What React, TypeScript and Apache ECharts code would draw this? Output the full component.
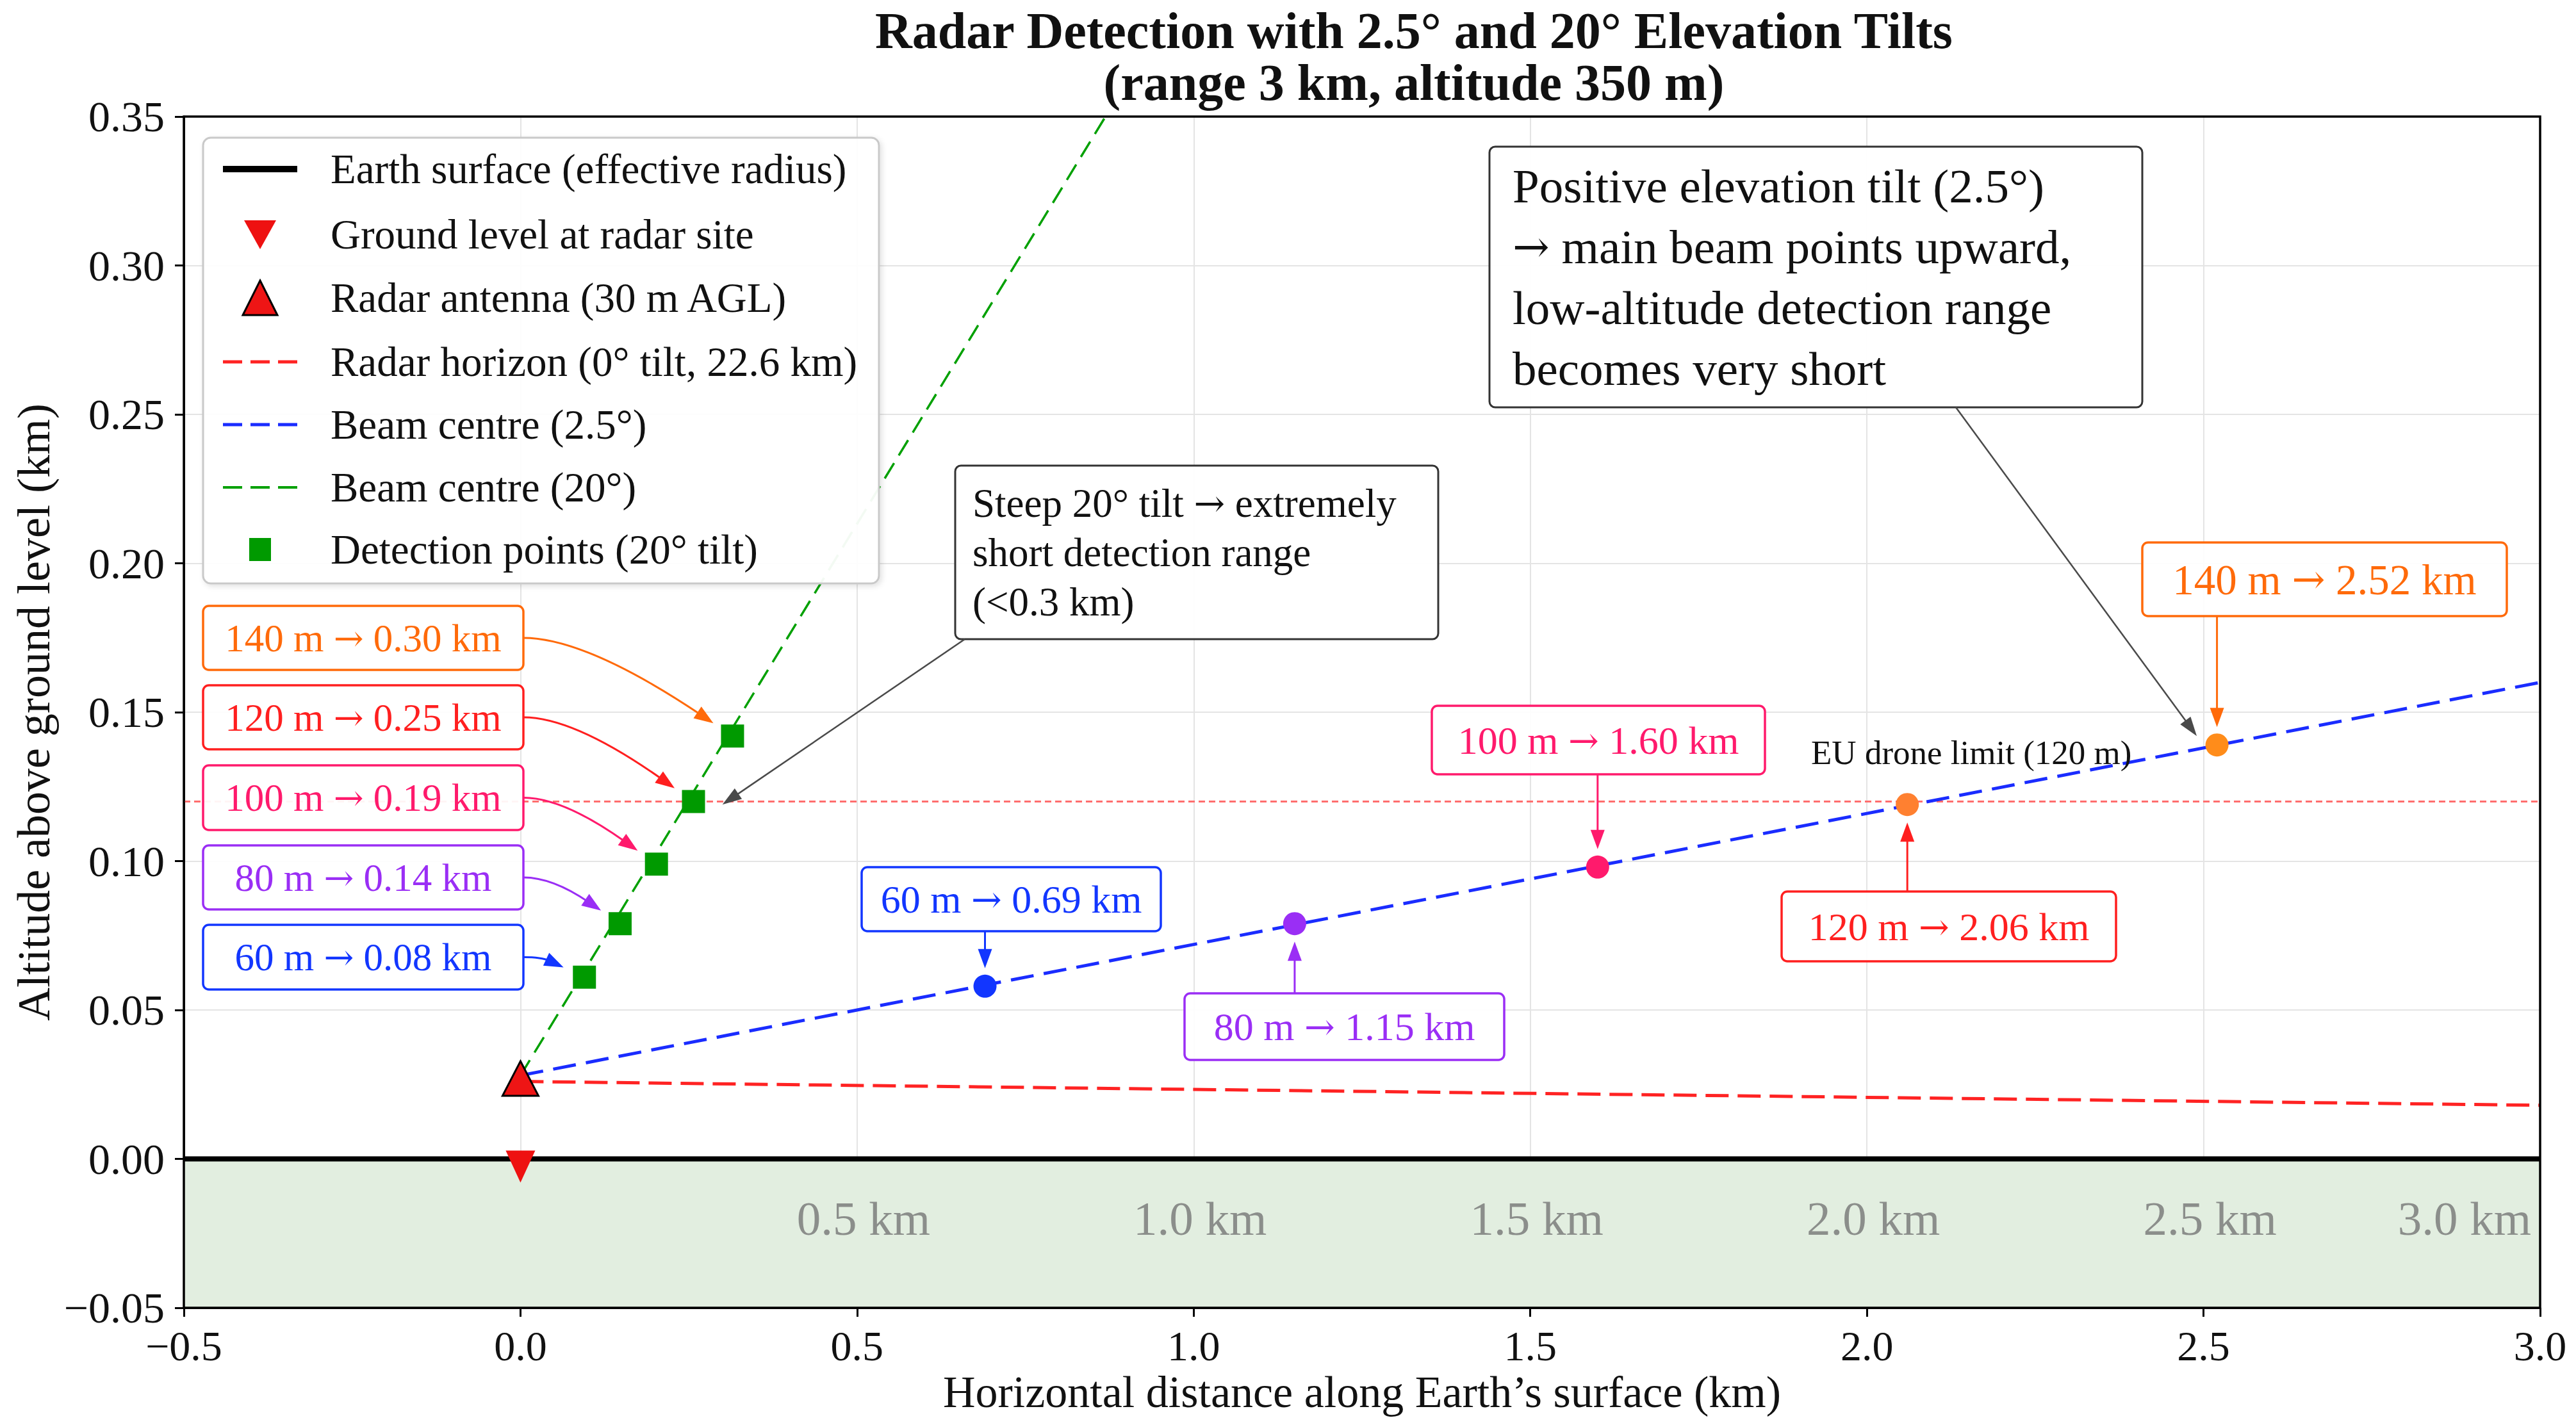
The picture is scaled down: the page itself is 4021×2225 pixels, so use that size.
import React, { useEffect, useRef } from "react";
import * as echarts from "echarts";

const W = 4021;
const H = 2225;
const FONT = '"Liberation Serif", "Times New Roman", serif';
const ARROW_FONT = '"DejaVu Serif", serif';

// ---------------- data ----------------
const xMin = -0.5;
const xMax = 3.0;
const xStep = 0.5;
const yMin = -0.05;
const yMax = 0.35;
const yStep = 0.05;

const earthSurface = [[-0.5, 0], [3.0, 0]];
const groundBand = [-0.05, 0];
const radarSite = [[0, 0]];
const radarAntenna = [[0, 0.027]];
const radarHorizon = [[0, 0.026], [3.0, 0.018]];
const beamLow = [[0, 0.028], [3.0, 0.16]];
const beamSteep = [[0, 0.028], [0.869, 0.35]];
const euLimit = [[-0.5, 0.12], [3.0, 0.12]];

const altitudesM = [60, 80, 100, 120, 140];
const steepRangeKm = [0.08, 0.14, 0.19, 0.25, 0.3];
const steepPointX = [0.095, 0.148, 0.202, 0.257, 0.315];
const steepPointY = [0.061, 0.079, 0.099, 0.12, 0.142];
const lowRangeKm = [0.69, 1.15, 1.6, 2.06, 2.52];
const lowPointY = [0.058, 0.079, 0.098, 0.119, 0.139];

const groundLabelKm = [0.5, 1.0, 1.5, 2.0, 2.5, 3.0];
const groundLabelY = -0.02;

const steepNoteTarget = [0.3, 0.119];
const tiltNoteTarget = [2.49, 0.142];

const titleText =
  "Radar Detection with 2.5\u00b0 and 20\u00b0 Elevation Tilts\n(range 3 km, altitude 350 m)";
const legendLabels = [
  "Earth surface (effective radius)",
  "Ground level at radar site",
  "Radar antenna (30 m AGL)",
  "Radar horizon (0\u00b0 tilt, 22.6 km)",
  "Beam centre (2.5\u00b0)",
  "Beam centre (20\u00b0)",
  "Detection points (20\u00b0 tilt)",
];
const steepNote = "Steep 20\u00b0 tilt \u2192 extremely\nshort detection range\n(<0.3 km)";
const tiltNote =
  "Positive elevation tilt (2.5\u00b0)\n\u2192 main beam points upward,\nlow-altitude detection range\nbecomes very short";
const euLabel = "EU drone limit (120 m)";

// ---------------- styles / layout ----------------
const labelColors = ["#1236ff", "#9a2ef5", "#ff1a6c", "#ff1f1f", "#ff6a0a"];
const lowDotColors = ["#1236ff", "#9a2ef5", "#ff1a6c", "#ff8030", "#ff8c1a"];
const GREEN = "#00a000";
const BLUE = "#1a2cff";
const RED = "#ff2323";

const PLOT = { left: 287, top: 182, right: 3965, bottom: 2042 };

const leftBoxRects = [
  [317, 1444, 500, 101],
  [317, 1320, 500, 100],
  [317, 1195, 500, 101],
  [317, 1070, 500, 100],
  [317, 946, 500, 100],
];
const rightBoxRects = [
  [1345, 1354, 467, 100],
  [1849, 1551, 499, 104],
  [2235, 1102, 520, 107],
  [2781, 1392, 522, 109],
  [3344, 847, 569, 115],
];
const rightBoxFont = [62, 62, 62, 62, 67];
const steepBoxRect = [1491, 727, 754, 271];
const tiltBoxRect = [2325, 229, 1019, 407];
const legendRect = [317, 215, 1055, 696];
const legendRowY = [264, 366, 465, 565, 663, 761, 858];

const fmt = (v: number, d: number) =>
  Math.abs(v) < 1e-9 ? (0).toFixed(d) : (v < 0 ? "\u2212" : "") + Math.abs(v).toFixed(d);

function norm(dx: number, dy: number) {
  const l = Math.hypot(dx, dy) || 1;
  return [dx / l, dy / l];
}

function head(tip: number[], u: number[], color: string, len = 30, wid = 22) {
  const bx = tip[0] - u[0] * len;
  const by = tip[1] - u[1] * len;
  const nx = -u[1];
  const ny = u[0];
  return {
    type: "polygon",
    z: 112,
    silent: true,
    shape: {
      points: [
        [tip[0], tip[1]],
        [bx + (nx * wid) / 2, by + (ny * wid) / 2],
        [bx - (nx * wid) / 2, by - (ny * wid) / 2],
      ],
    },
    style: { fill: color },
  };
}

function textEl(x: number, y: number, text: string, o: any) {
  const align = o.align || "left";
  const color = o.color || "#111";
  const hasArrow = text.indexOf("\u2192") >= 0;
  const style: any = {
    text: hasArrow ? text.replace(/\u2192/g, "{ar|\u2192}") : text,
    fill: color,
    fontSize: o.size,
    fontFamily: FONT,
    fontWeight: o.weight || "normal",
    lineHeight: o.lineHeight,
    align,
    textAlign: align,
    verticalAlign: "middle",
    textVerticalAlign: "middle",
  };
  if (hasArrow) {
    style.rich = {
      ar: {
        fontFamily: ARROW_FONT,
        fontSize: Math.round(o.size * 0.92),
        fill: color,
        lineHeight: o.lineHeight,
      },
    };
  }
  return { type: "text", z: 115, silent: true, x, y, style };
}

function boxEl(r: number[], stroke: string, fill = "rgba(255,255,255,0.93)", lw = 3.5) {
  return {
    type: "rect",
    z: 105,
    silent: true,
    shape: { x: r[0], y: r[1], width: r[2], height: r[3], r: 9 },
    style: { fill, stroke, lineWidth: lw },
  };
}

export default function App() {
  const ref = useRef<HTMLDivElement>(null);

  useEffect(() => {
    document.body.style.margin = "0";
    document.body.style.overflow = "hidden";
    const el = ref.current;
    if (!el) return;
    const chart = echarts.init(el, null, { renderer: "svg", width: W, height: H });

    const axisFont = { fontFamily: FONT, color: "#111" };

    const option: any = {
      animation: false,
      backgroundColor: "#ffffff",
      grid: {
        left: PLOT.left,
        right: W - PLOT.right,
        top: PLOT.top,
        bottom: H - PLOT.bottom,
      },
      xAxis: {
        type: "value",
        min: xMin,
        max: xMax,
        interval: xStep,
        name: "Horizontal distance along Earth\u2019s surface (km)",
        nameLocation: "middle",
        nameGap: 96,
        nameTextStyle: { ...axisFont, fontSize: 70 },
        axisLine: { show: true, onZero: false, lineStyle: { color: "#000", width: 3 } },
        axisTick: { show: true, length: 14, lineStyle: { color: "#000", width: 3 } },
        axisLabel: { ...axisFont, fontSize: 66, margin: 26, formatter: (v: number) => fmt(v, 1) },
        splitLine: { show: true, lineStyle: { color: "#e4e4e4", width: 2 } },
      },
      yAxis: {
        type: "value",
        min: yMin,
        max: yMax,
        interval: yStep,
        name: "Altitude above ground level (km)",
        nameLocation: "middle",
        nameGap: 195,
        nameTextStyle: { ...axisFont, fontSize: 72 },
        axisLine: { show: true, onZero: false, lineStyle: { color: "#000", width: 3 } },
        axisTick: { show: true, length: 14, lineStyle: { color: "#000", width: 3 } },
        axisLabel: { ...axisFont, fontSize: 68, margin: 30, formatter: (v: number) => fmt(v, 2) },
        splitLine: { show: true, lineStyle: { color: "#e4e4e4", width: 2 } },
      },
      series: [
        {
          name: legendLabels[0],
          type: "line",
          data: earthSurface,
          symbol: "none",
          z: 6,
          lineStyle: { color: "#000", width: 8 },
          markArea: {
            silent: true,
            itemStyle: { color: "#e2eee0" },
            data: [[{ xAxis: xMin, yAxis: groundBand[0] }, { xAxis: xMax, yAxis: groundBand[1] }]],
          },
        },
        {
          name: euLabel,
          type: "line",
          data: euLimit,
          symbol: "none",
          z: 3,
          lineStyle: { color: "#ff6e6e", width: 3, type: [10, 6] },
        },
        {
          name: legendLabels[3],
          type: "line",
          data: radarHorizon,
          symbol: "none",
          z: 4,
          lineStyle: { color: RED, width: 5, type: [36, 14] },
        },
        {
          name: legendLabels[4],
          type: "line",
          data: beamLow,
          symbol: "none",
          z: 4,
          lineStyle: { color: BLUE, width: 5, type: [36, 16] },
        },
        {
          name: legendLabels[5],
          type: "line",
          data: beamSteep,
          symbol: "none",
          z: 4,
          lineStyle: { color: GREEN, width: 3.5, type: [28, 14] },
        },
        {
          name: legendLabels[6],
          type: "scatter",
          data: steepPointX.map((x, i) => [x, steepPointY[i]]),
          symbol: "rect",
          symbolSize: 36,
          z: 7,
          itemStyle: { color: "#009a00", opacity: 1 },
        },
        {
          name: "Detection points (2.5\u00b0 tilt)",
          type: "scatter",
          data: lowRangeKm.map((x, i) => ({
            value: [x, lowPointY[i]],
            itemStyle: { color: lowDotColors[i], opacity: 1 },
          })),
          symbol: "circle",
          symbolSize: 36,
          z: 7,
        },
        {
          name: legendLabels[2],
          type: "scatter",
          data: radarAntenna,
          symbol: "triangle",
          symbolSize: [56, 54],
          z: 8,
          itemStyle: { color: "#ee1515", borderColor: "#000", borderWidth: 3, opacity: 1 },
        },
        {
          name: legendLabels[1],
          type: "scatter",
          data: radarSite,
          symbol: "path://M0,0 L10,0 L5,10 Z",
          symbolSize: [46, 50],
          symbolOffset: [0, 12],
          z: 8,
          itemStyle: { color: "#ee1111", opacity: 1 },
        },
        {
          name: "ground labels",
          type: "scatter",
          data: groundLabelKm.map((x, i) => ({
            value: [x, groundLabelY],
            label:
              i === groundLabelKm.length - 1 ? { align: "right", offset: [-14, 0] } : { offset: [10, 0] },
          })),
          symbolSize: 1,
          z: 9,
          itemStyle: { color: "transparent" },
          label: {
            show: true,
            position: "inside",
            formatter: (p: any) => `${p.value[0].toFixed(1)} km`,
            fontFamily: FONT,
            fontSize: 75,
            color: "#767676",
          },
        },
      ],
    };

    chart.setOption(option);

    const px = (p: number[]) => chart.convertToPixel({ xAxisIndex: 0, yAxisIndex: 0 }, p) as number[];
    const g: any[] = [];

    // plot frame
    g.push({
      type: "rect",
      z: 120,
      silent: true,
      shape: {
        x: PLOT.left,
        y: PLOT.top,
        width: PLOT.right - PLOT.left,
        height: PLOT.bottom - PLOT.top,
      },
      style: { fill: null, stroke: "#000", lineWidth: 3.5 },
    });

    // title (two lines in one text)
    g.push(textEl(2207, 88, titleText, { size: 80, weight: "bold", align: "center", lineHeight: 81 }));

    // legend
    g.push({
      type: "rect",
      z: 100,
      silent: true,
      shape: { x: legendRect[0], y: legendRect[1], width: legendRect[2], height: legendRect[3], r: 12 },
      style: {
        fill: "rgba(255,255,255,0.95)",
        stroke: "#c9c9c9",
        lineWidth: 3,
        shadowBlur: 8,
        shadowColor: "rgba(0,0,0,0.12)",
        shadowOffsetX: 3,
        shadowOffsetY: 3,
      },
    });
    const lx1 = 348;
    const lx2 = 464;
    const lcx = 406;
    const lineItem = (y: number, color: string, width: number, dash?: number[]) => ({
      type: "line",
      z: 106,
      silent: true,
      shape: { x1: lx1, y1: y, x2: lx2, y2: y },
      style: { stroke: color, lineWidth: width, lineDash: dash || null },
    });
    g.push(lineItem(legendRowY[0], "#000", 10));
    g.push({
      type: "polygon",
      z: 106,
      silent: true,
      shape: { points: [[lcx - 25, legendRowY[1] - 22], [lcx + 25, legendRowY[1] - 22], [lcx, legendRowY[1] + 23]] },
      style: { fill: "#ee1111" },
    });
    g.push({
      type: "polygon",
      z: 106,
      silent: true,
      shape: { points: [[lcx, legendRowY[2] - 27], [lcx + 27, legendRowY[2] + 27], [lcx - 27, legendRowY[2] + 27]] },
      style: { fill: "#ee1515", stroke: "#000", lineWidth: 3 },
    });
    g.push(lineItem(legendRowY[3], RED, 5, [30, 13]));
    g.push(lineItem(legendRowY[4], BLUE, 5, [30, 13]));
    g.push(lineItem(legendRowY[5], GREEN, 4, [30, 13]));
    g.push({
      type: "rect",
      z: 106,
      silent: true,
      shape: { x: lcx - 17, y: legendRowY[6] - 18, width: 34, height: 36 },
      style: { fill: "#009a00" },
    });
    legendLabels.forEach((t, i) => g.push(textEl(516, legendRowY[i], t, { size: 65 })));

    // left annotations (20° tilt)
    altitudesM.forEach((alt, i) => {
      const r = leftBoxRects[i];
      const c = labelColors[i];
      g.push(boxEl(r, c));
      g.push(
        textEl(r[0] + r[2] / 2, r[1] + r[3] / 2, `${alt} m \u2192 ${steepRangeKm[i].toFixed(2)} km`, {
          size: 61,
          color: c,
          align: "center",
        })
      );
      const S = [r[0] + r[2], r[1] + r[3] / 2];
      const T = px([steepPointX[i], steepPointY[i]]);
      const C = [S[0] + 0.3 * (T[0] - S[0]), S[1]];
      const u = norm(T[0] - C[0], T[1] - C[1]);
      const E = [T[0] - u[0] * 36, T[1] - u[1] * 36];
      const B = [E[0] - u[0] * 24, E[1] - u[1] * 24];
      g.push({
        type: "bezierCurve",
        z: 110,
        silent: true,
        shape: { x1: S[0], y1: S[1], x2: B[0], y2: B[1], cpx1: C[0], cpy1: C[1] },
        style: { stroke: c, lineWidth: 3, fill: null },
      });
      g.push(head(E, u, c));
    });

    // right annotations (2.5° tilt)
    altitudesM.forEach((alt, i) => {
      const r = rightBoxRects[i];
      const c = labelColors[i];
      g.push(boxEl(r, c));
      g.push(
        textEl(r[0] + r[2] / 2, r[1] + r[3] / 2, `${alt} m \u2192 ${lowRangeKm[i].toFixed(2)} km`, {
          size: rightBoxFont[i],
          color: c,
          align: "center",
        })
      );
      const P = px([lowRangeKm[i], lowPointY[i]]);
      const above = r[1] + r[3] / 2 < P[1];
      const S = [P[0], above ? r[1] + r[3] : r[1]];
      const E = [P[0], above ? P[1] - 28 : P[1] + 28];
      const u = [0, above ? 1 : -1];
      g.push({
        type: "line",
        z: 110,
        silent: true,
        shape: { x1: S[0], y1: S[1], x2: E[0] - u[0] * 24, y2: E[1] - u[1] * 24 },
        style: { stroke: c, lineWidth: 3 },
      });
      g.push(head(E, u, c));
    });

    // note boxes
    const noteArrow = (S: number[], target: number[]) => {
      const T = px(target);
      const u = norm(T[0] - S[0], T[1] - S[1]);
      g.push({
        type: "line",
        z: 110,
        silent: true,
        shape: { x1: S[0], y1: S[1], x2: T[0] - u[0] * 24, y2: T[1] - u[1] * 24 },
        style: { stroke: "#4a4a4a", lineWidth: 2.5 },
      });
      g.push(head(T, u, "#4a4a4a", 30, 20));
    };
    g.push(boxEl(steepBoxRect, "#333", "rgba(255,255,255,0.95)", 3));
    g.push(
      textEl(steepBoxRect[0] + 27, steepBoxRect[1] + steepBoxRect[3] / 2, steepNote, {
        size: 63,
        lineHeight: 77,
      })
    );
    noteArrow([steepBoxRect[0] + 15, steepBoxRect[1] + steepBoxRect[3]], steepNoteTarget);

    g.push(boxEl(tiltBoxRect, "#333", "rgba(255,255,255,0.95)", 3));
    g.push(
      textEl(tiltBoxRect[0] + 36, tiltBoxRect[1] + tiltBoxRect[3] / 2, tiltNote, {
        size: 75,
        lineHeight: 95,
      })
    );
    noteArrow([3053, tiltBoxRect[1] + tiltBoxRect[3]], tiltNoteTarget);

    // EU limit label
    g.push(textEl(2827, 1175, euLabel, { size: 53, color: "#111" }));

    chart.setOption({ graphic: { elements: g } });

    return () => chart.dispose();
  }, []);

  return <div ref={ref} style={{ width: W, height: H, position: "absolute", left: 0, top: 0 }} />;
}
